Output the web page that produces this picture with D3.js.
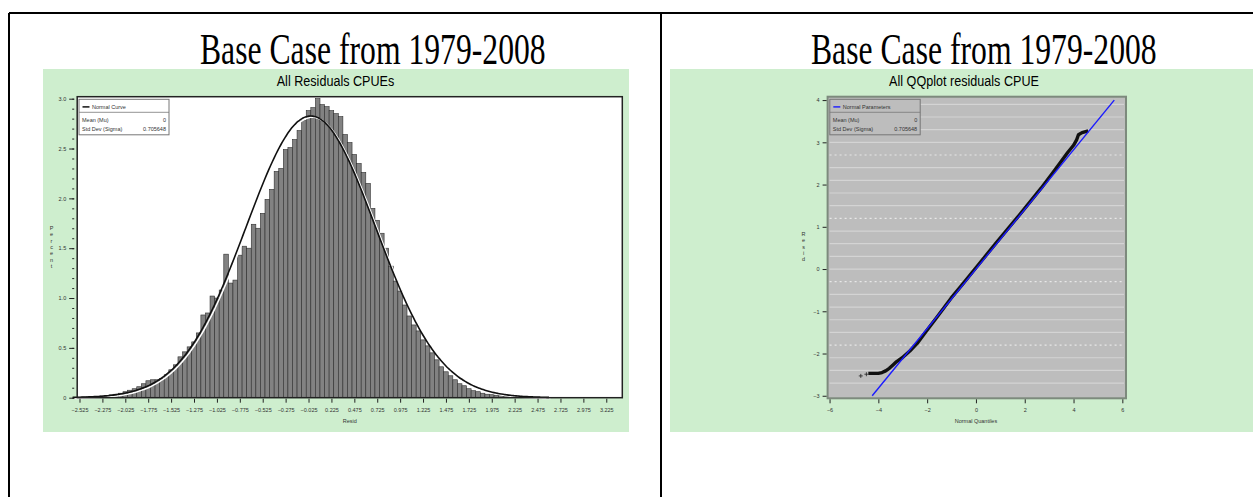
<!DOCTYPE html>
<html>
<head>
<meta charset="utf-8">
<script src="https://cdn.jsdelivr.net/npm/d3@7/dist/d3.min.js"></script>
<style>
  body { margin: 0; background: #fff; }
  svg { display: block; }
  .sans { font-family: "Liberation Sans", Arial, sans-serif; }
</style>
</head>
<body>
<svg id="chart" width="1253" height="497"></svg>
<script>
// ---- data ----
var heading = "Base Case from 1979-2008";
var histTitle = "All Residuals CPUEs";
var qqTitle = "All QQplot residuals CPUE";

var normMean = 0;
var normSigma = 0.705648;

// histogram: bin width 0.05, first midpoint -2.525
var binWidth = 0.05;
var firstMid = -2.525;
var binPercent = [
  0.004, 0.006, 0.008, 0.010, 0.013, 0.017, 0.022, 0.028, 0.035, 0.045,
  0.060, 0.075, 0.090, 0.110, 0.140, 0.170, 0.180, 0.180, 0.190, 0.230,
  0.280, 0.330, 0.410, 0.460, 0.510, 0.560, 0.650, 0.830, 0.850, 1.020,
  1.000, 1.080, 1.440, 1.150, 1.180, 1.430, 1.520, 1.500, 1.740, 1.700,
  1.850, 1.990, 2.090, 2.270, 2.300, 2.490, 2.510, 2.590, 2.680, 2.780,
  2.880, 2.910, 3.000, 2.940, 2.920, 2.880, 2.850, 2.820, 2.640, 2.560,
  2.440, 2.350, 2.260, 2.150, 1.900, 1.780, 1.650, 1.500, 1.320, 1.170,
  1.070, 0.930, 0.820, 0.730, 0.670, 0.580, 0.520, 0.450, 0.380, 0.310,
  0.260, 0.220, 0.180, 0.140, 0.120, 0.090, 0.070, 0.060, 0.045, 0.035,
  0.030, 0.025, 0.020, 0.017, 0.014, 0.012, 0.010, 0.008, 0.006, 0.005,
  0.004, 0.003
];
var histXTicks = [-2.525, -2.275, -2.025, -1.775, -1.525, -1.275, -1.025, -0.775,
  -0.525, -0.275, -0.025, 0.225, 0.475, 0.725, 0.975, 1.225, 1.475, 1.725,
  1.975, 2.225, 2.475, 2.725, 2.975, 3.225];
var histYTicks = [0, 0.5, 1.0, 1.5, 2.0, 2.5, 3.0];

// QQ plot: sparse tail points and the dense band of points
var qqTailQuantile = [-4.72, -4.49];
var qqTailResid = [-2.53, -2.49];
var qqQuantile = [-4.41, -4.2, -4.0, -3.85, -3.7, -3.55, -3.4, -3.25, -3.02, -2.71,
  -2.41, -2.1, -1.64, -1.02, -0.56, 0, 0.83, 1.91, 2.68, 3.15, 3.46, 3.76,
  4.0, 4.12, 4.2, 4.35, 4.6];
var qqResid = [-2.47, -2.47, -2.47, -2.45, -2.41, -2.35, -2.27, -2.19, -2.10, -1.94,
  -1.76, -1.52, -1.17, -0.69, -0.37, 0.03, 0.62, 1.37, 1.92, 2.28, 2.52, 2.76,
  2.93, 3.05, 3.18, 3.23, 3.27];
var qqXTicks = [-6, -4, -2, 0, 2, 4, 6];
var qqYTicks = [-3, -2, -1, 0, 1, 2, 3, 4];

var green = "#ceeece";

var svg = d3.select("#chart");

// ---- table lines ----
svg.append("line").attr("x1", 9).attr("y1", 13).attr("x2", 1253).attr("y2", 13)
  .attr("stroke", "#000").attr("stroke-width", 2);
svg.append("line").attr("x1", 9).attr("y1", 13).attr("x2", 9).attr("y2", 497)
  .attr("stroke", "#000").attr("stroke-width", 2);
svg.append("line").attr("x1", 661).attr("y1", 13).attr("x2", 661).attr("y2", 497)
  .attr("stroke", "#000").attr("stroke-width", 2);

// headings (squeezed sideways like the source document)
[200, 811].forEach(function(x0) {
  svg.append("text")
    .attr("transform", "translate(" + x0 + ",63.5) scale(0.72,1)")
    .attr("font-family", "'Liberation Serif', 'Times New Roman', serif")
    .attr("font-size", 44)
    .text(heading);
});

// green panels
svg.append("rect").attr("x", 43).attr("y", 69).attr("width", 586).attr("height", 363).attr("fill", green);
svg.append("rect").attr("x", 670).attr("y", 69).attr("width", 600).attr("height", 363).attr("fill", green);

function chartTitle(cx, str) {
  svg.append("text").attr("class", "sans")
    .attr("transform", "translate(" + cx + ",85.5) scale(0.84,1)")
    .attr("text-anchor", "middle")
    .attr("font-size", 15)
    .text(str);
}
chartTitle(335.5, histTitle);
chartTitle(964, qqTitle);

function stackedLabel(x, yTop, str, step) {
  str.split("").forEach(function(ch, i) {
    svg.append("text").attr("class", "sans")
      .attr("x", x).attr("y", yTop + i * step)
      .attr("text-anchor", "middle")
      .attr("font-size", 5.5).attr("fill", "#333")
      .text(ch);
  });
}

function styleAxis(g) {
  g.select(".domain").remove();
  g.selectAll(".tick line").attr("stroke", "#222").attr("stroke-width", 1);
  g.selectAll(".tick text").attr("class", "sans")
    .attr("font-family", null).attr("font-size", 5.5).attr("fill", "#333");
}

// ---- histogram ----
var hx = d3.scaleLinear().domain([-2.55, 3.4]).range([77.2, 622.3]);
var hy = d3.scaleLinear().domain([0, 3.02]).range([397.7, 96.7]);

svg.append("rect")
  .attr("x", hx(-2.55)).attr("y", hy(3.02))
  .attr("width", hx(3.4) - hx(-2.55)).attr("height", hy(0) - hy(3.02))
  .attr("fill", "#fff");

svg.append("g").selectAll("rect")
  .data(binPercent)
  .enter().append("rect")
  .attr("x", function(d, i) { return hx(firstMid + i * binWidth - binWidth / 2); })
  .attr("width", hx(binWidth) - hx(0))
  .attr("y", function(d) { return hy(d); })
  .attr("height", function(d) { return hy(0) - hy(d); })
  .attr("fill", "#828282")
  .attr("stroke", "#2e2e2e")
  .attr("stroke-width", 0.6);

// fitted normal curve, from the legend parameters
var curvePts = d3.range(-2.6, 2.62, 0.02).map(function(v) {
  var z = (v - normMean) / normSigma;
  return [v, 100 * binWidth * Math.exp(-0.5 * z * z) / (normSigma * Math.sqrt(2 * Math.PI))];
});
var curveLine = d3.line()
  .x(function(d) { return hx(d[0]); })
  .y(function(d) { return hy(d[1]); })
  .curve(d3.curveBasis);
svg.append("path").datum(curvePts).attr("d", curveLine)
  .attr("fill", "none").attr("stroke", "#fff").attr("stroke-width", 1.5)
  .attr("transform", "translate(1.6,1.2)");
svg.append("path").datum(curvePts).attr("d", curveLine)
  .attr("fill", "none").attr("stroke", "#111").attr("stroke-width", 1.6);

// frame
svg.append("rect")
  .attr("x", hx(-2.55)).attr("y", hy(3.02))
  .attr("width", hx(3.4) - hx(-2.55)).attr("height", hy(0) - hy(3.02))
  .attr("fill", "none").attr("stroke", "#222").attr("stroke-width", 1.5);

svg.append("g").attr("transform", "translate(0," + (hy(0) + 1) + ")")
  .call(d3.axisBottom(hx).tickValues(histXTicks).tickSize(4).tickPadding(5)
    .tickFormat(d3.format(".3f")))
  .call(styleAxis);
svg.append("g").attr("transform", "translate(" + (hx(-2.55) - 3) + ",0)")
  .call(d3.axisLeft(hy).tickValues(d3.range(0, 3.01, 0.1)).tickSize(2).tickFormat(""))
  .call(styleAxis);
svg.append("g").attr("transform", "translate(" + (hx(-2.55) - 3) + ",0)")
  .call(d3.axisLeft(hy).tickValues(histYTicks).tickSize(5).tickPadding(3)
    .tickFormat(function(d) { return d === 0 ? "0" : d3.format(".1f")(d); }))
  .call(styleAxis);

svg.append("text").attr("class", "sans")
  .attr("x", (hx(-2.55) + hx(3.4)) / 2).attr("y", 423)
  .attr("text-anchor", "middle").attr("font-size", 5.5).attr("fill", "#333")
  .text("Resid");
stackedLabel(51.5, 230, "Percent", 6.3);

// legend box shared by both plots
function legend(x0, y0, w, swatch, label) {
  var g = svg.append("g");
  g.append("rect").attr("x", x0).attr("y", y0).attr("width", w).attr("height", 35.5)
    .attr("fill", swatch === "#000" ? "#fff" : "#bdbdbd")
    .attr("stroke", "#777").attr("stroke-width", 1);
  g.append("line").attr("x1", x0).attr("x2", x0 + w).attr("y1", y0 + 13).attr("y2", y0 + 13)
    .attr("stroke", "#777").attr("stroke-width", 0.8);
  g.append("line").attr("x1", x0 + 3.5).attr("x2", x0 + 10.5).attr("y1", y0 + 7.6).attr("y2", y0 + 7.6)
    .attr("stroke", swatch).attr("stroke-width", 1.4);
  g.append("text").attr("class", "sans").attr("x", x0 + 13).attr("y", y0 + 10)
    .attr("font-size", 5.5).attr("fill", "#333").text(label);
  g.append("text").attr("class", "sans").attr("x", x0 + 3).attr("y", y0 + 22.5)
    .attr("font-size", 5.5).attr("fill", "#333").text("Mean (Mu)");
  g.append("text").attr("class", "sans").attr("x", x0 + w - 3).attr("y", y0 + 22.5)
    .attr("text-anchor", "end").attr("font-size", 5.5).attr("fill", "#333").text(d3.format("")(normMean));
  g.append("text").attr("class", "sans").attr("x", x0 + 3).attr("y", y0 + 32)
    .attr("font-size", 5.5).attr("fill", "#333").text("Std Dev (Sigma)");
  g.append("text").attr("class", "sans").attr("x", x0 + w - 3).attr("y", y0 + 32)
    .attr("text-anchor", "end").attr("font-size", 5.5).attr("fill", "#333").text(normSigma);
}
legend(79, 99.3, 90, "#000", "Normal Curve");

// ---- QQ plot ----
var qx = d3.scaleLinear().domain([-6.08, 6.15]).range([827.6, 1126]);
var qy = d3.scaleLinear().domain([-3.06, 4.08]).range([398.3, 96.7]);

svg.append("rect")
  .attr("x", qx(-6.08)).attr("y", qy(4.08))
  .attr("width", qx(6.15) - qx(-6.08)).attr("height", qy(-3.06) - qy(4.08))
  .attr("fill", "#bdbdbd");

// background rules every 0.3, dotted every 1.5
var rules = d3.range(-9, 14).map(function(i) { return i * 0.3; });
function isDotted(d) {
  var r = (d + 0.3) / 1.5;
  return Math.abs(r - Math.round(r)) < 1e-6;
}
svg.append("g").selectAll("line")
  .data(rules)
  .enter().append("line")
  .attr("x1", qx(-6.08) + 2).attr("x2", qx(6.15) - 2)
  .attr("y1", function(d) { return qy(d); })
  .attr("y2", function(d) { return qy(d); })
  .attr("stroke", function(d) { return isDotted(d) ? "#e8e8e8" : "#d4d4d4"; })
  .attr("stroke-dasharray", function(d) { return isDotted(d) ? "2,3" : null; })
  .attr("stroke-width", 1.2);

// data band
var qqLine = d3.line()
  .x(function(d, i) { return qx(qqQuantile[i]); })
  .y(function(d, i) { return qy(qqResid[i]); });
svg.append("path").datum(qqQuantile).attr("d", qqLine)
  .attr("fill", "none").attr("stroke", "#111").attr("stroke-width", 3.4)
  .attr("stroke-linejoin", "round");

svg.append("g").selectAll("path")
  .data(qqTailQuantile)
  .enter().append("path")
  .attr("d", "M-2,0H2M0,-2V2")
  .attr("transform", function(d, i) { return "translate(" + qx(d) + "," + qy(qqTailResid[i]) + ")"; })
  .attr("stroke", "#222").attr("stroke-width", 0.8);

// normal reference line: resid = mu + sigma * quantile, drawn from -3 to 4
svg.append("line")
  .attr("x1", qx((-3 - normMean) / normSigma)).attr("y1", qy(-3))
  .attr("x2", qx((4 - normMean) / normSigma)).attr("y2", qy(4))
  .attr("stroke", "#1a1aff").attr("stroke-width", 1.4);

svg.append("rect")
  .attr("x", qx(-6.08)).attr("y", qy(4.08))
  .attr("width", qx(6.15) - qx(-6.08)).attr("height", qy(-3.06) - qy(4.08))
  .attr("fill", "none").attr("stroke", "#7d8a7d").attr("stroke-width", 2);

svg.append("g").attr("transform", "translate(0," + (qy(-3.06) + 1) + ")")
  .call(d3.axisBottom(qx).tickValues(qqXTicks).tickSize(4).tickPadding(5))
  .call(styleAxis);
svg.append("g").attr("transform", "translate(" + (qx(-6.08) - 1) + ",0)")
  .call(d3.axisLeft(qy).tickValues(qqYTicks).tickSize(4).tickPadding(3))
  .call(styleAxis);

svg.append("text").attr("class", "sans")
  .attr("x", qx(0)).attr("y", 423)
  .attr("text-anchor", "middle").attr("font-size", 5.5).attr("fill", "#333")
  .text("Normal Quantiles");
stackedLabel(803.5, 236, "Resid", 6.3);

legend(829.8, 99.3, 90.4, "#1a1aff", "Normal Parameters");
</script>
</body>
</html>
